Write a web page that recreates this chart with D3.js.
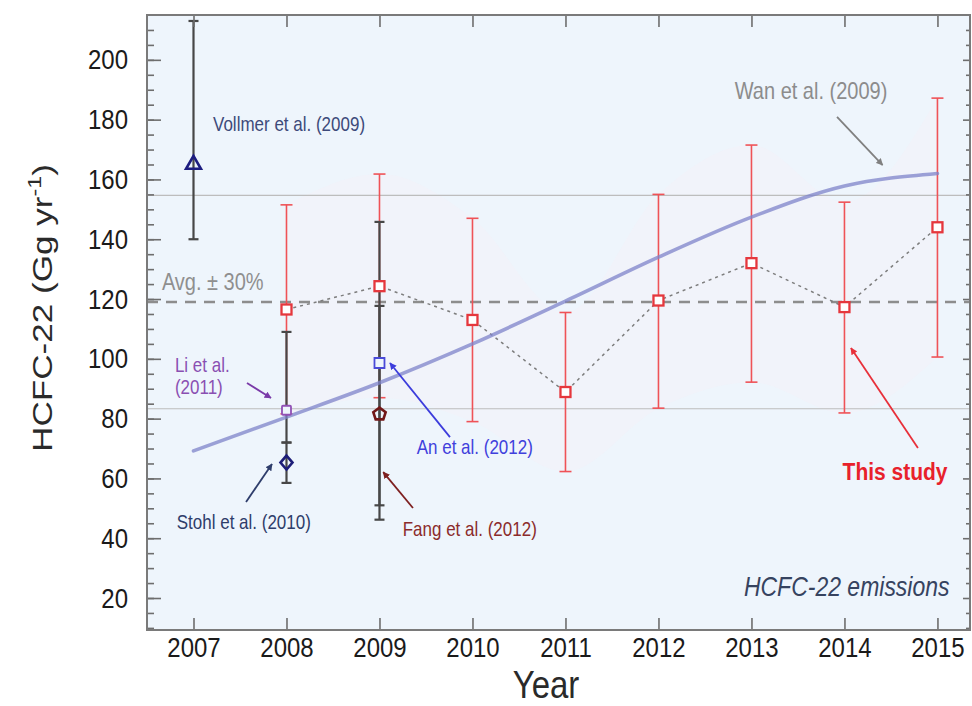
<!DOCTYPE html>
<html>
<head>
<meta charset="utf-8">
<script src="https://cdn.jsdelivr.net/npm/d3@7"></script>
<style>
body{margin:0;background:#fff;}
text{font-family:"Liberation Sans",Arial,sans-serif;}
</style>
</head>
<body>
<svg id="chart" width="972" height="706"></svg>
<script>
// ---- data ----
const studyYears = [2008, 2009, 2010, 2011, 2012, 2013, 2014, 2015];
const studyValues = [116.5, 124.3, 113, 88.9, 119.5, 132, 117.3, 144];
const studyUpper = [151.5, 161.8, 147, 115.5, 155, 171.5, 152.4, 187.2];
const studyLower = [81.6, 87, 79, 62.3, 83.5, 92.2, 81.9, 100.6];

const wanYears = [2007, 2008, 2009, 2010, 2011, 2012, 2013, 2014, 2015];
const wanValues = [69.2, 80.5, 92, 105, 119.3, 134, 147.4, 157.8, 162];

const avgValue = 119;
const bandValues = [83.3, 154.7];   // avg -30% / +30%

const otherNames = ["Vollmer et al. (2009)", "Li et al. (2011)", "Stohl et al. (2010)", "An et al. (2012)", "Fang et al. (2012)"];
const otherYears = [2007, 2008, 2008, 2009, 2009];
const otherValues = [165.5, 82.8, 65.3, 98.6, 81.5];
const otherLower = [140, 72, 58.5, 51, 46.2];
const otherUpper = [213, 109, 72, 145.8, 117.7];
const otherShapes = ["triangle", "circle", "diamond", "square", "pentagon"];
const otherColors = ["#1d1d80", "#9150b5", "#1d1d78", "#4a4ad8", "#721818"];

const yearTicks = [2007, 2008, 2009, 2010, 2011, 2012, 2013, 2014, 2015];
const yTicks = [20, 40, 60, 80, 100, 120, 140, 160, 180, 200];

// annotation positions in data units [x year, y value]
const notes = [
	{text: "Vollmer et al. (2009)", at: [2007.21, 176.2], color: "#3d4a7a", size: 17},
	{text: "Wan et al. (2009)", at: [2012.82, 187], color: "#8c8c8c", size: 20},
	{text: "Avg. \u00b1 30%", at: [2006.66, 123], color: "#8f8f8f", size: 20},
	{text: "Li et al.", at: [2006.80, 95.6], color: "#8a4fb2", size: 17},
	{text: "(2011)", at: [2006.80, 88.3], color: "#8a4fb2", size: 17},
	{text: "Stohl et al. (2010)", at: [2006.82, 43.1], color: "#2e3d6b", size: 17},
	{text: "An et al. (2012)", at: [2009.40, 68.2], color: "#4040dc", size: 17},
	{text: "Fang et al. (2012)", at: [2009.25, 40.7], color: "#8b2b2b", size: 17},
	{text: "This study", at: [2013.98, 59.5], color: "#e8212b", size: 21, weight: "bold"}
];
const arrows = [
	{from: [2013.92, 180.9], to: [2014.41, 164.8], color: "#808080"},
	{from: [2007.575, 91.9], to: [2007.833, 86.9], color: "#7a3aa8"},
	{from: [2007.565, 52.1], to: [2007.844, 64.8], color: "#2e3d6b"},
	{from: [2009.758, 73.8], to: [2009.113, 98.6], color: "#3c3cdc"},
	{from: [2009.36, 50.1], to: [2009.04, 62.1], color: "#7e2020"},
	{from: [2014.79, 70.2], to: [2014.07, 103.6], color: "#e8303a"}
];

const SY = 1.18; // vertical stretch of lettering in the original

const svg = d3.select("#chart");
const x = d3.scaleLinear().domain([2006.5, 2015.35]).range([147, 970]);
const y = d3.scaleLinear().domain([9.3, 215]).range([630, 15]);

// plot background
svg.append("rect")
	.attr("x", 147).attr("y", 15)
	.attr("width", 823).attr("height", 615)
	.attr("fill", "#eef5fc");

// faint envelope of this study's range
svg.append("path")
	.datum(studyYears.map((d, i) => ({yr: d, lo: studyLower[i], hi: studyUpper[i]})))
	.attr("d", d3.area().curve(d3.curveMonotoneX)
		.x(d => x(d.yr)).y0(d => y(d.lo)).y1(d => y(d.hi)))
	.attr("fill", "#fbeef4")
	.attr("opacity", 0.28);

// avg +-30% lines
svg.selectAll(".band")
	.data(bandValues)
	.enter().append("line")
	.attr("class", "band")
	.attr("x1", 147).attr("x2", 970)
	.attr("y1", d => y(d)).attr("y2", d => y(d))
	.attr("stroke", "#bdbdbd")
	.attr("stroke-width", 1.2);

// avg dashed line
svg.append("line")
	.attr("x1", 147).attr("x2", 970)
	.attr("y1", y(avgValue)).attr("y2", y(avgValue))
	.attr("stroke", "#8d8d8d")
	.attr("stroke-width", 2.4)
	.attr("stroke-dasharray", "11,8");

function errorBars(data, color, width, capW){
	const g = svg.append("g");
	g.selectAll(".stem").data(data).enter().append("line")
		.attr("x1", d => x(d.yr)).attr("x2", d => x(d.yr))
		.attr("y1", d => y(d.lo)).attr("y2", d => y(d.hi))
		.attr("stroke", color).attr("stroke-width", width);
	["lo", "hi"].forEach(k => {
		g.selectAll(".cap" + k).data(data).enter().append("line")
			.attr("x1", d => x(d.yr) - capW / 2).attr("x2", d => x(d.yr) + capW / 2)
			.attr("y1", d => y(d[k])).attr("y2", d => y(d[k]))
			.attr("stroke", color).attr("stroke-width", width);
	});
}

// this study error bars (red)
const study = studyYears.map((d, i) => ({yr: d, v: studyValues[i], lo: studyLower[i], hi: studyUpper[i]}));
errorBars(study, "#ef5257", 1.6, 12);

// other studies error bars (black)
const others = otherYears.map((d, i) => ({yr: d, v: otherValues[i], lo: otherLower[i], hi: otherUpper[i],
	shape: otherShapes[i], color: otherColors[i]}));
errorBars(others, "#474747", 2.2, 10);

// dotted line through this study
svg.append("path")
	.datum(study)
	.attr("d", d3.line().x(d => x(d.yr)).y(d => y(d.v)))
	.attr("fill", "none")
	.attr("stroke", "#7d7d7d")
	.attr("stroke-width", 1.5)
	.attr("stroke-dasharray", "3,4");

// Wan et al. (2009) line
svg.append("path")
	.datum(wanYears.map((d, i) => ({yr: d, v: wanValues[i]})))
	.attr("d", d3.line().curve(d3.curveMonotoneX).x(d => x(d.yr)).y(d => y(d.v)))
	.attr("fill", "none")
	.attr("stroke", "#7e83c9")
	.attr("stroke-opacity", 0.75)
	.attr("stroke-width", 3.6)
	.attr("stroke-linecap", "round");

// marker shapes
function pentagon(r){
	const pts = d3.range(5).map(k => {
		const a = -Math.PI / 2 + k * 2 * Math.PI / 5;
		return [r * Math.cos(a), r * Math.sin(a)];
	});
	return "M" + pts.map(p => p.join(",")).join("L") + "Z";
}
const shapePath = {
	triangle: d3.symbol(d3.symbolTriangle, 95)(),
	circle: "M-4.5,-3.5Q-4.5,-4.5 -3.5,-4.5H3.5Q4.5,-4.5 4.5,-3.5V3.5Q4.5,4.5 3.5,4.5H-3.5Q-4.5,4.5 -4.5,3.5Z",
	diamond: "M0,-7L6,0L0,7L-6,0Z",
	square: "M-5,-5H5V5H-5Z",
	pentagon: pentagon(6.5)
};

svg.selectAll(".other")
	.data(others)
	.enter().append("path")
	.attr("class", "other")
	.attr("transform", d => "translate(" + x(d.yr) + "," + (y(d.v) + (d.shape == "triangle" ? 1.5 : 0)) + ")")
	.attr("d", d => shapePath[d.shape])
	.attr("fill", d => d.shape == "square" || d.shape == "circle" ? "#eef5fc" : "none")
	.attr("stroke", d => d.color)
	.attr("stroke-width", d => d.shape == "square" || d.shape == "circle" ? 1.8 : 2.6);

// this study markers
svg.selectAll(".study")
	.data(study)
	.enter().append("rect")
	.attr("class", "study")
	.attr("x", d => x(d.yr) - 5)
	.attr("y", d => y(d.v) - 5)
	.attr("width", 10).attr("height", 10)
	.attr("fill", "#fff")
	.attr("stroke", "#e5373d")
	.attr("stroke-width", 2.3);

// arrows
const defs = svg.append("defs");
arrows.forEach((a, i) => {
	defs.append("marker")
		.attr("id", "ah" + i)
		.attr("viewBox", "0 0 10 10")
		.attr("refX", 9).attr("refY", 5)
		.attr("markerWidth", 7).attr("markerHeight", 7)
		.attr("markerUnits", "userSpaceOnUse")
		.attr("orient", "auto")
		.append("path").attr("d", "M0,0L10,5L0,10Z").attr("fill", a.color);
	svg.append("line")
		.attr("x1", x(a.from[0])).attr("y1", y(a.from[1]))
		.attr("x2", x(a.to[0])).attr("y2", y(a.to[1]))
		.attr("stroke", a.color)
		.attr("stroke-width", 1.8)
		.attr("marker-end", "url(#ah" + i + ")");
});

// annotation text
notes.forEach(n => {
	svg.append("text")
		.attr("transform", "translate(" + x(n.at[0]) + "," + y(n.at[1]) + ") scale(1," + SY + ")")
		.attr("font-size", n.size)
		.attr("font-weight", n.weight || "normal")
		.attr("fill", n.color)
		.text(n.text);
});

svg.append("text")
	.attr("transform", "translate(" + x(2015.13) + "," + y(20.7) + ") scale(1," + SY + ")")
	.attr("text-anchor", "end")
	.attr("font-size", 23)
	.attr("font-style", "italic")
	.attr("fill", "#36435f")
	.text("HCFC-22 emissions");

// axes
const minorTicks = d3.range(10, 215, 5);

const left = svg.append("g").attr("transform", "translate(147,0)")
	.call(d3.axisLeft(y).tickValues(minorTicks).tickSizeInner(-7).tickSizeOuter(0).tickFormat(""));
const leftMajor = svg.append("g").attr("transform", "translate(147,0)")
	.call(d3.axisLeft(y).tickValues(yTicks).tickSizeInner(-14).tickSizeOuter(0).tickPadding(19));
leftMajor.selectAll("text")
	.attr("font-size", 24)
	.attr("fill", "#1a1a1a")
	.attr("transform", "scale(1," + SY + ")");

const right = svg.append("g").attr("transform", "translate(970,0)")
	.call(d3.axisRight(y).tickValues(minorTicks).tickSizeInner(-4).tickSizeOuter(0).tickFormat(""));
right.selectAll(".tick")
	.filter(d => d % 20 == 0)
	.select("line").attr("x2", -7);

const top_ = svg.append("g").attr("transform", "translate(0,15)")
	.call(d3.axisTop(x).tickValues(yearTicks).tickSizeInner(-12).tickSizeOuter(0).tickFormat(""));
const bottom = svg.append("g").attr("transform", "translate(0,630)")
	.call(d3.axisBottom(x).tickValues(yearTicks).tickSizeInner(-12).tickSizeOuter(0)
		.tickPadding(6).tickFormat(d3.format("d")));
bottom.selectAll("text")
	.attr("font-size", 24)
	.attr("fill", "#1a1a1a")
	.attr("transform", "scale(1," + SY + ")");

[left, leftMajor, right, top_, bottom].forEach(g => {
	g.select(".domain").remove();
	g.selectAll(".tick line").attr("stroke", "#6e6e6e").attr("stroke-width", 1.6);
	g.selectAll("text").attr("font-family", "'Liberation Sans',Arial,sans-serif");
});

// frame
svg.append("rect")
	.attr("x", 147).attr("y", 15)
	.attr("width", 823).attr("height", 615)
	.attr("fill", "none")
	.attr("stroke", "#7a7a7a")
	.attr("stroke-width", 2);

// axis titles
svg.append("text")
	.attr("transform", "translate(546,698) scale(1," + SY + ")")
	.attr("text-anchor", "middle")
	.attr("font-size", 33)
	.attr("fill", "#2a2a2a")
	.text("Year");

const yt = svg.append("text")
	.attr("transform", "translate(52,308) rotate(-90) scale(1.3,1)")
	.attr("text-anchor", "middle")
	.attr("font-size", 27)
	.attr("fill", "#2a2a2a");
yt.append("tspan").text("HCFC-22 (Gg yr");
yt.append("tspan").attr("font-size", 18).attr("dy", -11).text("-1");
yt.append("tspan").attr("dy", 11).text(")");
</script>
</body>
</html>
